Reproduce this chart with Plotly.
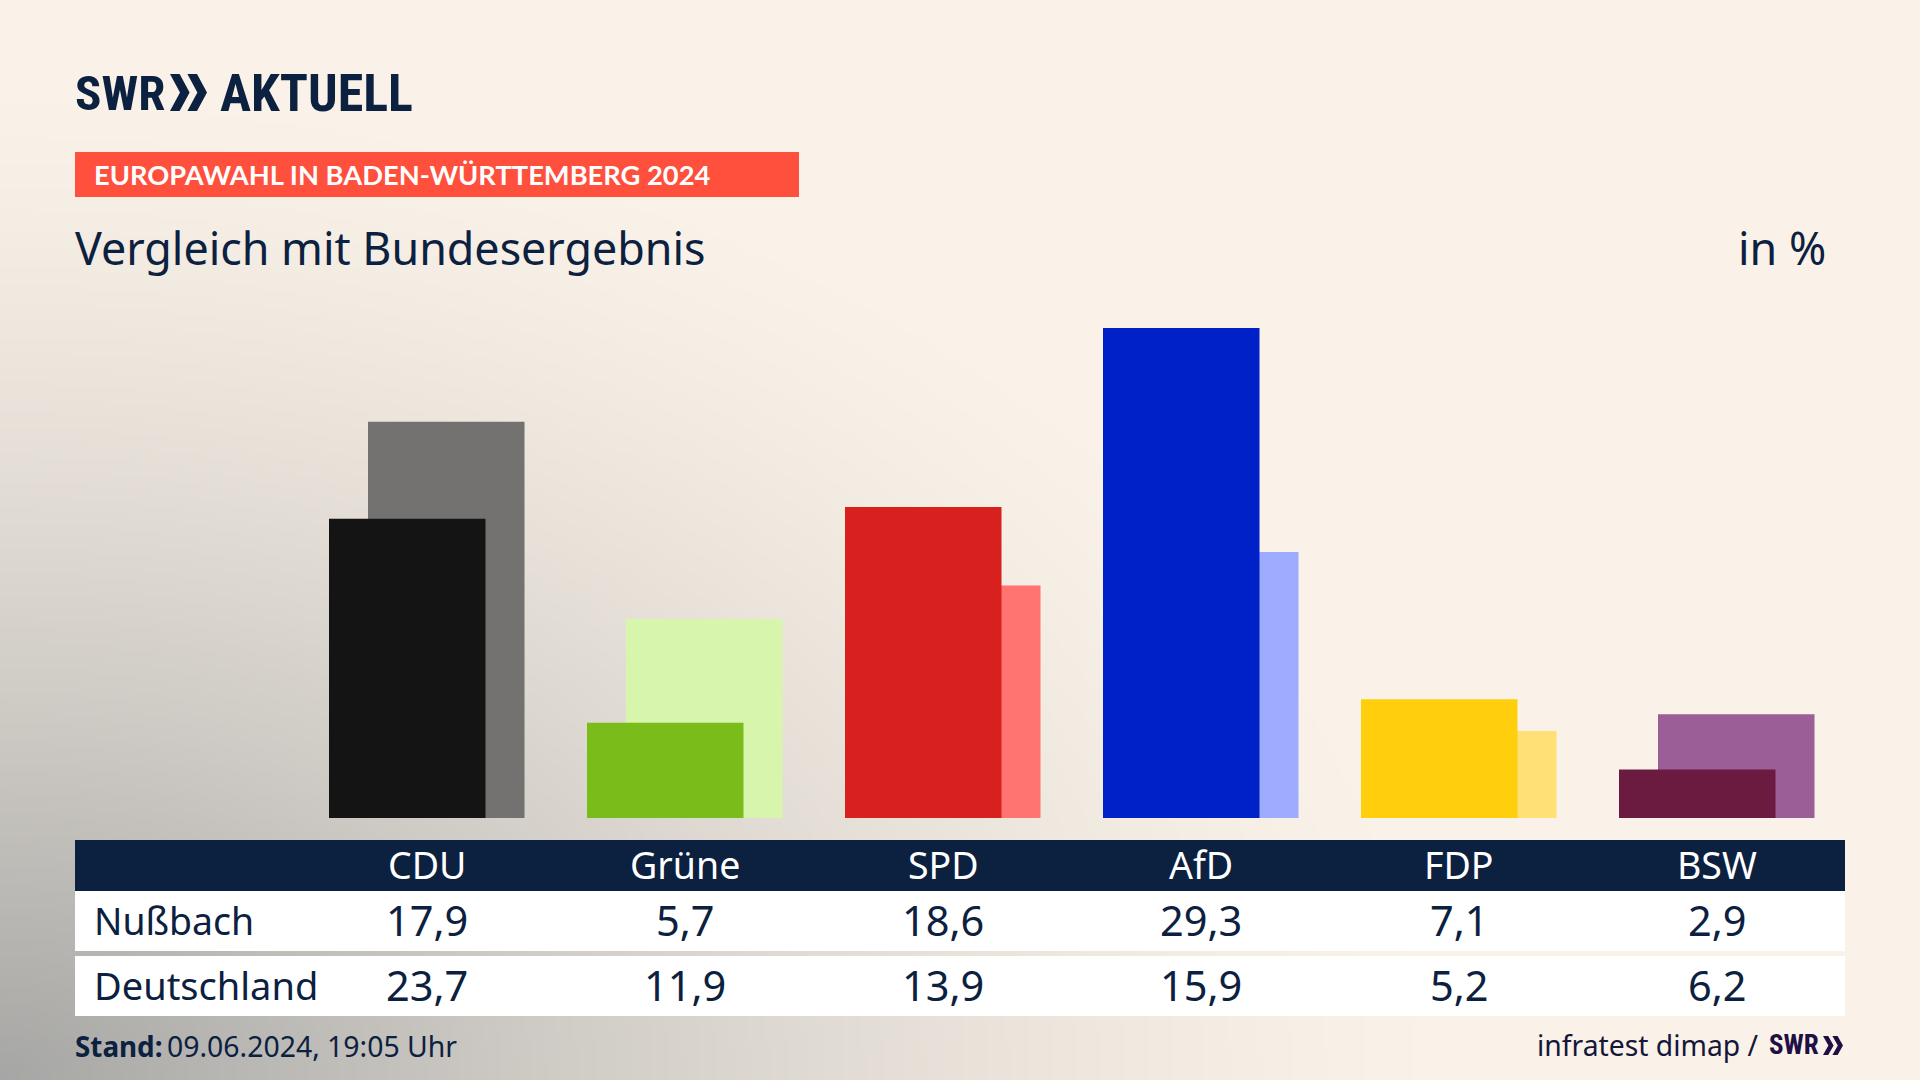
import base64, struct, zlib
import numpy as np
import plotly.graph_objects as go

# ---- data ----
parties = ["CDU", "Grüne", "SPD", "AfD", "FDP", "BSW"]
nussbach = [17.9, 5.7, 18.6, 29.3, 7.1, 2.9]
deutschland = [23.7, 11.9, 13.9, 15.9, 5.2, 6.2]
dark_colors = ["#141414", "#7ABD1A", "#D8201E", "#0020C8", "#FFCF0D", "#6B1A40"]
light_colors = ["#737270", "#D7F5AB", "#FF7370", "#9EACFF", "#FFE074", "#9B5E96"]
row_names = ["Nußbach", "Deutschland"]

W, H = 1920, 1080
NAVY = "#0C2040"
CREAM = np.array([250, 242, 232], float)
GRAY = np.array([166, 166, 164], float)
FONT = "Noto Sans"
LOGO = "Roboto Condensed, DejaVu Sans Condensed, Lato"


def px(x):
    return x / W


def py(y):
    return 1 - y / H


def fmt(v):
    return f"{v:.1f}".replace(".", ",")


def background_png():
    w, h = 320, 180
    xs = (np.arange(w) + 0.5) / w * W
    ys = (np.arange(h) + 0.5) / h * H
    X, Y = np.meshgrid(xs, ys)
    t = np.sqrt((X / 1450) ** 2 + ((H - Y) / 1000) ** 2)
    k = np.clip(1 - t, 0, 1) ** 1.4
    k = k[..., None]
    img = (CREAM * (1 - k) + GRAY * k).round().astype(np.uint8)
    raw = b"".join(b"\x00" + img[i].tobytes() for i in range(h))

    def chunk(tag, data):
        c = struct.pack(">I", len(data)) + tag + data
        return c + struct.pack(">I", zlib.crc32(tag + data) & 0xFFFFFFFF)

    png = b"\x89PNG\r\n\x1a\n" + chunk(b"IHDR", struct.pack(">IIBBBBB", w, h, 8, 2, 0, 0, 0)) \
        + chunk(b"IDAT", zlib.compress(raw, 9)) + chunk(b"IEND", b"")
    return "data:image/png;base64," + base64.b64encode(png).decode()


fig = go.Figure()
BAR_W = 156.5 / 258
fig.add_bar(x=parties, y=deutschland, name="Deutschland", width=BAR_W, offset=-59 / 258,
            marker=dict(color=light_colors, line_width=0))
fig.add_bar(x=parties, y=nussbach, name="Nußbach", width=BAR_W, offset=-98 / 258,
            marker=dict(color=dark_colors, line_width=0))

shapes = []


def rect(x0, y0, x1, y1, color):
    shapes.append(dict(type="rect", xref="paper", yref="paper", x0=px(x0), x1=px(x1), y0=py(y0), y1=py(y1),
                       fillcolor=color, line_width=0, layer="below"))


def chevrons(x0, x1, y0, y1, color):
    w = (x1 - x0)
    ym = (y0 + y1) / 2
    for i in (0, 1):
        a = x0 + i * w * 0.47
        t = w * 0.26
        n = w * 0.27
        pts = [(a, y0), (a + t, y0), (a + t + n, ym), (a + t, y1), (a, y1), (a + n, ym)]
        d = "M" + " L".join(f"{px(p)},{py(q)}" for p, q in pts) + " Z"
        shapes.append(dict(type="path", xref="paper", yref="paper", path=d, fillcolor=color, line_width=0))


rect(75, 152, 799, 197, "#FF4F3D")
rect(75, 840, 1845, 891, NAVY)
rect(75, 891, 1845, 951, "#FFFFFF")
rect(75, 956, 1845, 1016, "#FFFFFF")
chevrons(170, 207, 74, 111, NAVY)
chevrons(1823, 1843, 1036, 1055, "#1F0F44")

ann = []


def text(t, x, y, size, color=NAVY, anchor="left", family=FONT, bold=False, xref="paper"):
    ann.append(dict(text=f"<b>{t}</b>" if bold else t, x=px(x) if xref == "paper" else x, y=py(y),
                    xref=xref, yref="paper", xanchor=anchor, yanchor="middle", showarrow=False,
                    font=dict(size=size, color=color, family=family), borderpad=0, borderwidth=0))


text("SWR", 75, 93, 49, bold=True, family=LOGO)
text("AKTUELL", 220, 93, 52, bold=True, family=LOGO)
text("EUROPAWAHL IN BADEN-WÜRTTEMBERG 2024", 94, 175, 27.3, color="#FFFFFF", bold=True, family="Lato")
text("Vergleich mit Bundesergebnis", 75, 247, 44.8)
text("in %", 1826, 247, 44.8, anchor="right")

for i, p in enumerate(parties):
    text(p, i, 864, 37.5, color="#FFFFFF", anchor="center", xref="x")
    text(fmt(nussbach[i]), i, 920, 41.5, anchor="center", xref="x")
    text(fmt(deutschland[i]), i, 985, 41.5, anchor="center", xref="x")
text(row_names[0], 94, 920, 37.4)
text(row_names[1], 94, 985, 38)

text("Stand:", 75, 1046, 27.8, bold=True)
text("09.06.2024, 19:05 Uhr", 167, 1046, 28.4)
text("infratest dimap /", 1759, 1045, 28.3, anchor="right", color="#14163A")
text("SWR", 1769, 1045, 27, bold=True, color="#1F0F44", family=LOGO)

fig.update_layout(
    width=W, height=H, autosize=False,
    margin=dict(l=0, r=0, t=0, b=0),
    paper_bgcolor="#FAF2E8", plot_bgcolor="rgba(0,0,0,0)",
    barmode="overlay", showlegend=False,
    xaxis=dict(domain=[px(75), px(1845)], range=[(75 - 427) / 258, (1845 - 427) / 258],
               type="category", visible=False),
    yaxis=dict(domain=[py(818), py(240)], range=[0, (818 - 240) / (490 / 29.3)], visible=False),
    shapes=shapes, annotations=ann,
    images=[dict(source=background_png(), xref="paper", yref="paper", x=0, y=1, sizex=1, sizey=1,
                 sizing="stretch", xanchor="left", yanchor="top", layer="below")],
)
fig.write_html("out.html", config=dict(displayModeBar=False),
               post_script="document.body.style.margin='0';")
